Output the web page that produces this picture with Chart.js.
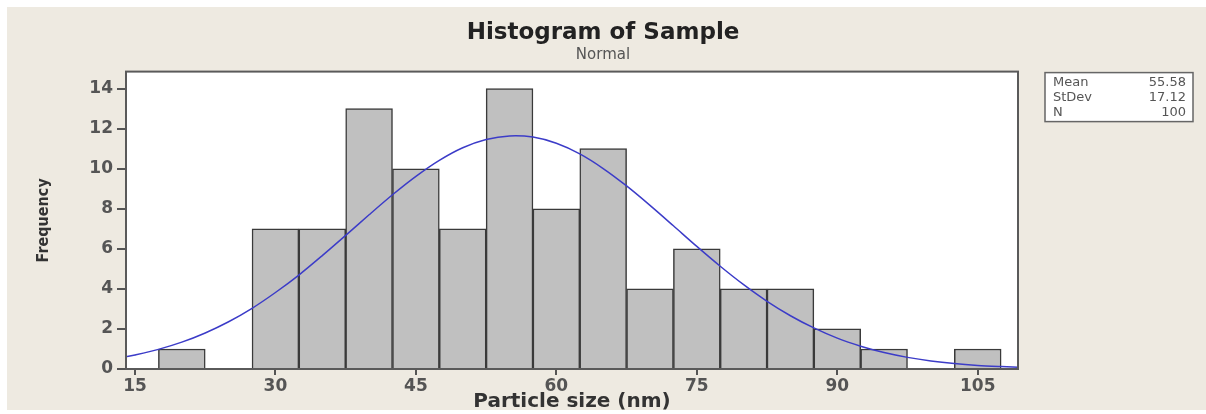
<!DOCTYPE html>
<html>
<head>
<meta charset="utf-8">
<script src="https://cdn.jsdelivr.net/npm/chart.js@4"></script>
<style>
  html, body { margin: 0; padding: 0; background: #fff; }
  #wrap { width: 1206px; height: 414px; }
</style>
</head>
<body>
<div id="wrap"><canvas id="histChart" width="1206" height="414"></canvas></div>
<script>
// Histogram bins (centre of each 5 nm bin) and counts
const binCenters = [20, 25, 30, 35, 40, 45, 50, 55, 60, 65, 70, 75, 80, 85, 90, 95, 100, 105];
const counts = [1, 0, 7, 7, 13, 10, 7, 14, 8, 11, 4, 6, 4, 4, 2, 1, 0, 1];

// Fitted normal curve
const curveX = [14, 15, 17.5, 20, 22.5, 25, 27.5, 30, 32.5, 35, 37.5, 40, 42.5, 45, 47.5, 50, 52.5, 55,
                57.5, 60, 62.5, 65, 67.5, 70, 72.5, 75, 77.5, 80, 82.5, 85, 87.5, 90, 92.5, 95, 97.5,
                100, 102.5, 105, 107.5, 110];
const curveY = [0.61, 0.70, 0.98, 1.34, 1.80, 2.36, 3.03, 3.82, 4.69, 5.66, 6.67, 7.70, 8.70, 9.62, 10.42,
                11.05, 11.46, 11.64, 11.58, 11.27, 10.74, 10.01, 9.14, 8.17, 7.15, 6.12, 5.13, 4.21, 3.38,
                2.66, 2.05, 1.54, 1.14, 0.82, 0.58, 0.40, 0.27, 0.18, 0.12, 0.07];

const xTicks = [15, 30, 45, 60, 75, 90, 105];
const yTicks = [0, 2, 4, 6, 8, 10, 12, 14];

const statLabels = ['Mean', 'StDev', 'N'];
const statValues = ['55.58', '17.12', '100'];

const barData = binCenters
  .map((x, i) => ({ x: x, y: counts[i] }))
  .filter(p => p.y > 0);
const curveData = curveX.map((x, i) => ({ x: x, y: curveY[i] }));

const tickFont = { family: 'DejaVu Sans', size: 17, weight: 'bold' };

// beige page, white plot area
const backdrop = {
  id: 'backdrop',
  beforeDraw(chart) {
    const c = chart.ctx, a = chart.chartArea;
    c.save();
    c.fillStyle = '#ffffff';
    c.fillRect(0, 0, chart.width, chart.height);
    c.fillStyle = '#eeeae1';
    c.fillRect(7, 7, chart.width - 7, chart.height - 11);
    c.fillStyle = '#ffffff';
    c.fillRect(a.left, a.top, a.right - a.left, a.bottom - a.top);
    c.restore();
  }
};

// plot frame and the stats box on the right
const frame = {
  id: 'frame',
  afterDraw(chart) {
    const c = chart.ctx, a = chart.chartArea;
    c.save();
    c.strokeStyle = '#5a5a5a';
    c.lineWidth = 2;
    c.strokeRect(a.left, a.top, a.right - a.left, a.bottom - a.top);

    const bx = a.right + 27, by = a.top + 1, bw = 148, bh = 49;
    c.lineWidth = 1.5;
    c.strokeStyle = '#666';
    c.fillStyle = '#ffffff';
    c.fillRect(bx, by, bw, bh);
    c.strokeRect(bx, by, bw, bh);
    c.font = '13px "DejaVu Sans"';
    c.fillStyle = '#555';
    c.textBaseline = 'middle';
    statLabels.forEach((lab, i) => {
      const y = by + 10 + i * 15;
      c.textAlign = 'left';
      c.fillText(lab, bx + 8, y);
      c.textAlign = 'right';
      c.fillText(statValues[i], bx + bw - 7, y);
    });
    c.restore();
  }
};

const ctx = document.getElementById('histChart').getContext('2d');
const histChart = new Chart(ctx, {
  data: {
    datasets: [{
      type: 'line',
      label: 'Normal fit',
      data: curveData,
      borderColor: '#3c3cc8',
      borderWidth: 1.5,
      pointRadius: 0,
      tension: 0.3,
      order: 0
    }, {
      type: 'bar',
      label: 'Sample',
      data: barData,
      backgroundColor: '#c0c0c0',
      borderColor: '#3a3a3a',
      borderWidth: 1.5,
      borderSkipped: 'bottom',
      barPercentage: 1,
      categoryPercentage: 1,
      grouped: false,
      order: 1
    }]
  },
  options: {
    responsive: false,
    animation: false,
    layout: { padding: 0 },
    plugins: {
      legend: { display: false },
      tooltip: { enabled: false },
      title: {
        display: true,
        text: 'Histogram of Sample',
        color: '#222',
        font: { family: 'DejaVu Sans', size: 23, weight: 'bold' },
        padding: { top: 19, bottom: 0 }
      },
      subtitle: {
        display: true,
        text: 'Normal',
        color: '#555',
        font: { family: 'DejaVu Sans', size: 15 },
        padding: { top: 0, bottom: 7 }
      }
    },
    scales: {
      x: {
        type: 'linear',
        min: 14.04,
        max: 109.3,
        offset: false,
        afterBuildTicks: (scale) => { scale.ticks = xTicks.map(v => ({ value: v })); },
        afterFit: (scale) => { scale.height = 45; },
        ticks: { color: '#555', font: tickFont, padding: 1, autoSkip: false, maxRotation: 0 },
        grid: { display: true, offset: false, drawOnChartArea: false, drawTicks: true, tickLength: 6, color: '#555', lineWidth: 2 },
        border: { display: false },
        title: {
          display: true,
          text: 'Particle size (nm)',
          color: '#333',
          font: { family: 'DejaVu Sans', size: 20, weight: 'bold' },
          padding: { top: 0, bottom: 0 }
        }
      },
      y: {
        min: 0,
        max: 14.85,
        afterBuildTicks: (scale) => { scale.ticks = yTicks.map(v => ({ value: v })); },
        afterFit: (scale) => { scale.width = 126; },
        ticks: { color: '#555', font: tickFont, padding: 4 },
        grid: { display: true, drawOnChartArea: false, drawTicks: true, tickLength: 9, color: '#555', lineWidth: 2 },
        border: { display: false },
        title: {
          display: true,
          text: 'Frequency',
          color: '#333',
          font: { family: '"Liberation Sans Narrow", "DejaVu Sans Condensed", sans-serif', size: 16, weight: 'bold' },
          padding: { top: 34, bottom: 0 }
        }
      },
      // empty right-hand band that holds the stats box
      side: {
        type: 'linear',
        position: 'right',
        display: true,
        grid: { display: false },
        border: { display: false },
        ticks: { display: false },
        afterFit: (scale) => { scale.width = 188; }
      }
    }
  },
  plugins: [backdrop, frame]
});
</script>
</body>
</html>
